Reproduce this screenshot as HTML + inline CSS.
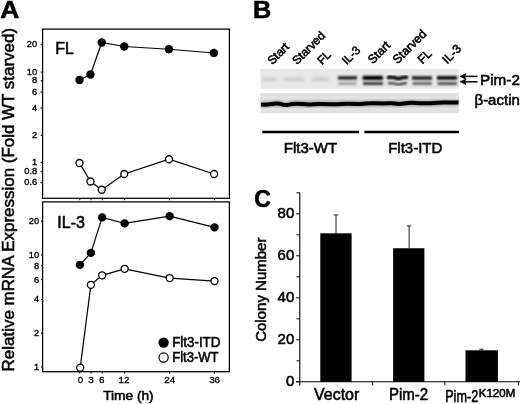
<!DOCTYPE html>
<html><head><meta charset="utf-8"><title>Figure</title>
<style>
html,body{margin:0;padding:0;background:#fff;}
body{width:520px;height:404px;overflow:hidden;}
svg{display:block;font-family:"Liberation Sans",sans-serif;}
text{stroke:#000;stroke-width:0.55px;}
text.s{stroke-width:0.35px;}
</style></head><body>
<svg width="520" height="404" viewBox="0 0 520 404">
<defs>
<filter id="b1" x="-20%" y="-100%" width="140%" height="300%"><feGaussianBlur stdDeviation="0.9"/></filter>
<filter id="b2" x="-20%" y="-100%" width="140%" height="300%"><feGaussianBlur stdDeviation="1.4"/></filter>
<filter id="b3" x="-5%" y="-200%" width="110%" height="500%"><feGaussianBlur stdDeviation="0.7"/></filter>
<filter id="tb"><feGaussianBlur stdDeviation="0.35"/></filter>
</defs>
<rect width="520" height="404" fill="#fff"/>
<g filter="url(#tb)">

<text transform="translate(0.2,18.3) scale(1.15,1.05)" font-size="23" font-weight="bold">A</text>
<text transform="translate(252.9,18.3) scale(1.1,1.05)" font-size="23" font-weight="bold">B</text>
<text transform="translate(254.3,206.5) scale(1.0,1.06)" font-size="23" font-weight="bold">C</text>
<text transform="translate(14.0,371.4) rotate(-90)" font-size="17" textLength="343.5" lengthAdjust="spacingAndGlyphs">Relative mRNA Expression (Fold WT starved)</text>
<rect x="42.6" y="29.1" width="186.8" height="169.2" fill="none" stroke="#000" stroke-width="1.25"/>
<rect x="42.6" y="201.9" width="186.8" height="169.8" fill="none" stroke="#000" stroke-width="1.25"/>
<line x1="40.6" x2="42.6" y1="44.81" y2="44.81" stroke="#000" stroke-width="1"/>
<text x="37.2" y="47.31" class="s" font-size="9.3" text-anchor="end">20</text>
<line x1="40.6" x2="42.6" y1="72.05" y2="72.05" stroke="#000" stroke-width="1"/>
<text x="37.2" y="74.55" class="s" font-size="9.3" text-anchor="end">10</text>
<line x1="40.6" x2="42.6" y1="80.82" y2="80.82" stroke="#000" stroke-width="1"/>
<text x="37.2" y="83.32" class="s" font-size="9.3" text-anchor="end">8</text>
<line x1="40.6" x2="42.6" y1="92.13" y2="92.13" stroke="#000" stroke-width="1"/>
<text x="37.2" y="94.63" class="s" font-size="9.3" text-anchor="end">6</text>
<line x1="40.6" x2="42.6" y1="108.06" y2="108.06" stroke="#000" stroke-width="1"/>
<text x="37.2" y="110.56" class="s" font-size="9.3" text-anchor="end">4</text>
<line x1="40.6" x2="42.6" y1="135.31" y2="135.31" stroke="#000" stroke-width="1"/>
<text x="37.2" y="137.81" class="s" font-size="9.3" text-anchor="end">2</text>
<line x1="40.6" x2="42.6" y1="162.55" y2="162.55" stroke="#000" stroke-width="1"/>
<text x="37.2" y="165.05" class="s" font-size="9.3" text-anchor="end">1</text>
<line x1="40.6" x2="42.6" y1="171.32" y2="171.32" stroke="#000" stroke-width="1"/>
<text x="37.2" y="173.82" class="s" font-size="9.3" text-anchor="end">0.8</text>
<line x1="40.6" x2="42.6" y1="182.63" y2="182.63" stroke="#000" stroke-width="1"/>
<text x="37.2" y="185.13" class="s" font-size="9.3" text-anchor="end">0.6</text>
<line x1="41" x2="42.6" y1="221.18" y2="221.18" stroke="#000" stroke-width="1"/>
<text x="39.2" y="224.08" class="s" font-size="9.3" text-anchor="end">20</text>
<line x1="41" x2="42.6" y1="254.90" y2="254.90" stroke="#000" stroke-width="1"/>
<text x="39.2" y="257.80" class="s" font-size="9.3" text-anchor="end">10</text>
<line x1="41" x2="42.6" y1="265.75" y2="265.75" stroke="#000" stroke-width="1"/>
<text x="39.2" y="268.65" class="s" font-size="9.3" text-anchor="end">8</text>
<line x1="41" x2="42.6" y1="279.75" y2="279.75" stroke="#000" stroke-width="1"/>
<text x="39.2" y="282.65" class="s" font-size="9.3" text-anchor="end">6</text>
<line x1="41" x2="42.6" y1="299.47" y2="299.47" stroke="#000" stroke-width="1"/>
<text x="39.2" y="302.37" class="s" font-size="9.3" text-anchor="end">4</text>
<line x1="41" x2="42.6" y1="333.18" y2="333.18" stroke="#000" stroke-width="1"/>
<text x="39.2" y="336.08" class="s" font-size="9.3" text-anchor="end">2</text>
<line x1="41" x2="42.6" y1="366.90" y2="366.90" stroke="#000" stroke-width="1"/>
<text x="39.2" y="369.80" class="s" font-size="9.3" text-anchor="end">1</text>
<line x1="79.80" x2="79.80" y1="198.3" y2="200.2" stroke="#000" stroke-width="1"/>
<line x1="79.80" x2="79.80" y1="371.7" y2="373.6" stroke="#000" stroke-width="1"/>
<text x="80.50" y="383.1" class="s" font-size="9.8" text-anchor="middle">0</text>
<line x1="91.02" x2="91.02" y1="198.3" y2="200.2" stroke="#000" stroke-width="1"/>
<line x1="91.02" x2="91.02" y1="371.7" y2="373.6" stroke="#000" stroke-width="1"/>
<text x="91.02" y="383.1" class="s" font-size="9.8" text-anchor="middle">3</text>
<line x1="102.24" x2="102.24" y1="198.3" y2="200.2" stroke="#000" stroke-width="1"/>
<line x1="102.24" x2="102.24" y1="371.7" y2="373.6" stroke="#000" stroke-width="1"/>
<text x="101.64" y="383.1" class="s" font-size="9.8" text-anchor="middle">6</text>
<line x1="124.68" x2="124.68" y1="198.3" y2="200.2" stroke="#000" stroke-width="1"/>
<line x1="124.68" x2="124.68" y1="371.7" y2="373.6" stroke="#000" stroke-width="1"/>
<text x="123.98" y="383.1" class="s" font-size="9.8" text-anchor="middle">12</text>
<line x1="169.56" x2="169.56" y1="198.3" y2="200.2" stroke="#000" stroke-width="1"/>
<line x1="169.56" x2="169.56" y1="371.7" y2="373.6" stroke="#000" stroke-width="1"/>
<text x="169.76" y="383.1" class="s" font-size="9.8" text-anchor="middle">24</text>
<line x1="214.44" x2="214.44" y1="198.3" y2="200.2" stroke="#000" stroke-width="1"/>
<line x1="214.44" x2="214.44" y1="371.7" y2="373.6" stroke="#000" stroke-width="1"/>
<text x="214.64" y="383.1" class="s" font-size="9.8" text-anchor="middle">36</text>
<text x="128.4" y="399.8" font-size="13.7" text-anchor="middle">Time (h)</text>
<text x="55.2" y="54.0" font-size="16">FL</text>
<text x="57.3" y="228.4" font-size="16">IL-3</text>
<polyline fill="none" stroke="#000" stroke-width="1.2" points="79.5,80 90.5,74.5 101.75,42.5 124.25,46.5 168.9,49.25 213.9,53"/>
<circle cx="79.5" cy="80" r="4.2" fill="#000"/>
<circle cx="90.5" cy="74.5" r="4.2" fill="#000"/>
<circle cx="101.75" cy="42.5" r="4.2" fill="#000"/>
<circle cx="124.25" cy="46.5" r="4.2" fill="#000"/>
<circle cx="168.9" cy="49.25" r="4.2" fill="#000"/>
<circle cx="213.9" cy="53" r="4.2" fill="#000"/>
<polyline fill="none" stroke="#000" stroke-width="1.2" points="79.5,163 90.5,181.5 101.75,189.75 124.25,174 169,159.25 214.1,174"/>
<circle cx="79.5" cy="163" r="3.5" fill="#fff" stroke="#000" stroke-width="1.3"/>
<circle cx="90.5" cy="181.5" r="3.5" fill="#fff" stroke="#000" stroke-width="1.3"/>
<circle cx="101.75" cy="189.75" r="3.5" fill="#fff" stroke="#000" stroke-width="1.3"/>
<circle cx="124.25" cy="174" r="3.5" fill="#fff" stroke="#000" stroke-width="1.3"/>
<circle cx="169" cy="159.25" r="3.5" fill="#fff" stroke="#000" stroke-width="1.3"/>
<circle cx="214.1" cy="174" r="3.5" fill="#fff" stroke="#000" stroke-width="1.3"/>
<polyline fill="none" stroke="#000" stroke-width="1.2" points="79.9,264.9 90.9,252.9 102.15,217.4 124.65,223.4 169.65,216.15 214.5,227.4"/>
<circle cx="79.9" cy="264.9" r="4.2" fill="#000"/>
<circle cx="90.9" cy="252.9" r="4.2" fill="#000"/>
<circle cx="102.15" cy="217.4" r="4.2" fill="#000"/>
<circle cx="124.65" cy="223.4" r="4.2" fill="#000"/>
<circle cx="169.65" cy="216.15" r="4.2" fill="#000"/>
<circle cx="214.5" cy="227.4" r="4.2" fill="#000"/>
<polyline fill="none" stroke="#000" stroke-width="1.2" points="80.2,367.7 90.9,284.8 102.15,275.3 124.65,268.8 169.65,278.05 214.5,281.05"/>
<circle cx="80.2" cy="367.7" r="3.5" fill="#fff" stroke="#000" stroke-width="1.3"/>
<circle cx="90.9" cy="284.8" r="3.5" fill="#fff" stroke="#000" stroke-width="1.3"/>
<circle cx="102.15" cy="275.3" r="3.5" fill="#fff" stroke="#000" stroke-width="1.3"/>
<circle cx="124.65" cy="268.8" r="3.5" fill="#fff" stroke="#000" stroke-width="1.3"/>
<circle cx="169.65" cy="278.05" r="3.5" fill="#fff" stroke="#000" stroke-width="1.3"/>
<circle cx="214.5" cy="281.05" r="3.5" fill="#fff" stroke="#000" stroke-width="1.3"/>
<circle cx="163.6" cy="342.6" r="5.2" fill="#000"/>
<circle cx="163.6" cy="357.5" r="4.6" fill="#fff" stroke="#000" stroke-width="1.2"/>
<text x="172.2" y="347.1" font-size="14" textLength="48.2" lengthAdjust="spacingAndGlyphs">Flt3-ITD</text>
<text x="172.2" y="361.8" font-size="14" textLength="46.4" lengthAdjust="spacingAndGlyphs">Flt3-WT</text>
<rect x="260.4" y="69" width="198.6" height="19.8" fill="#e8e8e8"/>
<rect x="260.4" y="93" width="198.6" height="20.2" fill="#e2e2e2"/>
</g>
<g>
<rect x="263" y="78" width="13.5" height="2.4" fill="#bdbdbd" filter="url(#b2)"/>
<rect x="284.5" y="78" width="19.5" height="2.4" fill="#bdbdbd" filter="url(#b2)"/>
<rect x="312" y="78" width="16.5" height="2.4" fill="#bdbdbd" filter="url(#b2)"/>
<rect x="338" y="76.2" width="19" height="3.4" fill="#1c1c1c" filter="url(#b1)"/>
<rect x="338.5" y="82.4" width="18" height="2.2" fill="#8c8c8c" filter="url(#b1)"/>
<rect x="362.5" y="75.7" width="20.5" height="4.4" rx="1.5" fill="#000" filter="url(#b1)"/>
<rect x="363" y="82.2" width="20" height="2.6" fill="#222" filter="url(#b1)"/>
<path d="M388.5 77.4 Q393 76.8 396 78 T399.5 78.6 Q403 77 406.5 77.4" fill="none" stroke="#050505" stroke-width="3.6" stroke-linecap="round" filter="url(#b1)"/>
<path d="M389 83.2 Q393 82.8 396 83.8 T399.5 84.4 Q403 83 406 83.2" fill="none" stroke="#3a3a3a" stroke-width="2.4" stroke-linecap="round" filter="url(#b1)"/>
<rect x="412" y="76.4" width="20" height="3.2" fill="#080808" filter="url(#b1)"/>
<rect x="412.5" y="82.3" width="19.5" height="2.4" fill="#484848" filter="url(#b1)"/>
<rect x="437" y="76.1" width="20" height="3.6" fill="#000" filter="url(#b1)"/>
<rect x="437.5" y="82.3" width="19.5" height="2.5" fill="#3a3a3a" filter="url(#b1)"/>
<path d="M261 104.6 Q266 105 272 104 T283 104.6 Q286 105.6 290 104.4 T303 104 Q308 104.8 313 104.2 T332 104.2 Q336 104.6 341 104 T358 104 Q362 104.2 366 103.6 T383 103.6 Q387 103 391 103.2 T399 104 Q404 103.6 408 103 T420 103.2 Q428 103.6 434 103 T446 102.6 Q452 102.2 458.5 102.6" fill="none" stroke="#a4a4a4" stroke-width="6.5" filter="url(#b2)"/>
<path d="M261 104.6 Q266 105 272 104 T283 104.6 Q286 105.6 290 104.4 T303 104 Q308 104.8 313 104.2 T332 104.2 Q336 104.6 341 104 T358 104 Q362 104.2 366 103.6 T383 103.6 Q387 103 391 103.2 T399 104 Q404 103.6 408 103 T420 103.2 Q428 103.6 434 103 T446 102.6 Q452 102.2 458.5 102.6" fill="none" stroke="#000" stroke-width="4" filter="url(#b3)"/>
</g>
<g filter="url(#tb)">
<text transform="translate(272.3,65.2) rotate(-45)" font-size="11.8">Start</text>
<text transform="translate(297.1,65.2) rotate(-45)" font-size="11.8">Starved</text>
<text transform="translate(321.9,65.2) rotate(-45)" font-size="11.8">FL</text>
<text transform="translate(346.7,65.2) rotate(-45)" font-size="11.8">IL-3</text>
<text transform="translate(372.8,64.4) rotate(-45)" font-size="12.2">Start</text>
<text transform="translate(397.6,64.4) rotate(-45)" font-size="12.2">Starved</text>
<text transform="translate(422.4,64.4) rotate(-45)" font-size="12.2">FL</text>
<text transform="translate(447.2,64.4) rotate(-45)" font-size="12.2">IL-3</text>
<line x1="464.5" x2="477.6" y1="76.4" y2="76.4" stroke="#000" stroke-width="1.5"/>
<polygon points="460,76.4 465.9,73.60000000000001 464.8,76.4 465.9,79.2" fill="#000" stroke="#000" stroke-width="0.6" stroke-linejoin="round"/>
<line x1="464.5" x2="477.6" y1="81.8" y2="81.8" stroke="#000" stroke-width="1.5"/>
<polygon points="460,81.8 465.9,79.0 464.8,81.8 465.9,84.6" fill="#000" stroke="#000" stroke-width="0.6" stroke-linejoin="round"/>
<text x="480" y="84.8" font-size="15.3">Pim-2</text>
<text x="474.5" y="104.6" font-size="15">β-actin</text>
<line x1="262.3" x2="359" y1="132" y2="132" stroke="#000" stroke-width="2.3"/>
<line x1="364.4" x2="459" y1="132" y2="132" stroke="#000" stroke-width="2.3"/>
<text x="310.4" y="153.2" font-size="15" text-anchor="middle">Flt3-WT</text>
<text x="415.3" y="153.2" font-size="15" text-anchor="middle">Flt3-ITD</text>
<line x1="299.8" x2="299.8" y1="192.5" y2="385.6" stroke="#000" stroke-width="1.1"/>
<line x1="296" x2="520" y1="381.8" y2="381.8" stroke="#000" stroke-width="1.1"/>
<line x1="296.1" x2="299.8" y1="381.80" y2="381.80" stroke="#000" stroke-width="1"/>
<text x="294.3" y="386.10" font-size="15" text-anchor="end">0</text>
<line x1="296.5" x2="299.8" y1="360.80" y2="360.80" stroke="#000" stroke-width="1"/>
<line x1="296.1" x2="299.8" y1="339.80" y2="339.80" stroke="#000" stroke-width="1"/>
<text x="294.3" y="344.10" font-size="15" text-anchor="end">20</text>
<line x1="296.5" x2="299.8" y1="318.80" y2="318.80" stroke="#000" stroke-width="1"/>
<line x1="296.1" x2="299.8" y1="297.80" y2="297.80" stroke="#000" stroke-width="1"/>
<text x="294.3" y="302.10" font-size="15" text-anchor="end">40</text>
<line x1="296.5" x2="299.8" y1="276.80" y2="276.80" stroke="#000" stroke-width="1"/>
<line x1="296.1" x2="299.8" y1="255.80" y2="255.80" stroke="#000" stroke-width="1"/>
<text x="294.3" y="260.10" font-size="15" text-anchor="end">60</text>
<line x1="296.5" x2="299.8" y1="234.80" y2="234.80" stroke="#000" stroke-width="1"/>
<line x1="296.1" x2="299.8" y1="213.80" y2="213.80" stroke="#000" stroke-width="1"/>
<text x="294.3" y="218.10" font-size="15" text-anchor="end">80</text>
<line x1="296.5" x2="299.8" y1="192.80" y2="192.80" stroke="#000" stroke-width="1"/>
<line x1="372.6" x2="372.6" y1="381.8" y2="385.3" stroke="#000" stroke-width="1"/>
<line x1="444.9" x2="444.9" y1="381.8" y2="385.3" stroke="#000" stroke-width="1"/>
<line x1="518.6" x2="518.6" y1="381.8" y2="385.3" stroke="#000" stroke-width="1"/>
<rect x="320.3" y="233.33" width="31.30" height="148.47" fill="#000"/>
<line x1="336" x2="336" y1="215" y2="233.33" stroke="#222" stroke-width="1"/>
<line x1="333.8" x2="338.2" y1="215" y2="215" stroke="#222" stroke-width="1"/>
<rect x="393.1" y="248.24" width="31.30" height="133.56" fill="#000"/>
<line x1="409.1" x2="409.1" y1="225.9" y2="248.24" stroke="#222" stroke-width="1"/>
<line x1="406.90000000000003" x2="411.3" y1="225.9" y2="225.9" stroke="#222" stroke-width="1"/>
<rect x="465.5" y="350.30" width="32.40" height="31.50" fill="#000"/>
<line x1="481.5" x2="481.5" y1="349.2" y2="350.30" stroke="#222" stroke-width="1"/>
<line x1="479.3" x2="483.7" y1="349.2" y2="349.2" stroke="#222" stroke-width="1"/>
<text transform="translate(265.5,341.8) rotate(-90)" font-size="15">Colony Number</text>
<text x="314" y="400.1" font-size="16.4" textLength="45.3" lengthAdjust="spacingAndGlyphs">Vector</text>
<text x="389" y="400.4" font-size="16" textLength="39.2" lengthAdjust="spacingAndGlyphs">Pim-2</text>
<text x="445.2" y="401.7" font-size="16" textLength="33" lengthAdjust="spacingAndGlyphs">Pim-2</text>
<text x="478.8" y="397.1" font-size="11.6" textLength="36.4" lengthAdjust="spacingAndGlyphs">K120M</text>
</g></svg></body></html>
